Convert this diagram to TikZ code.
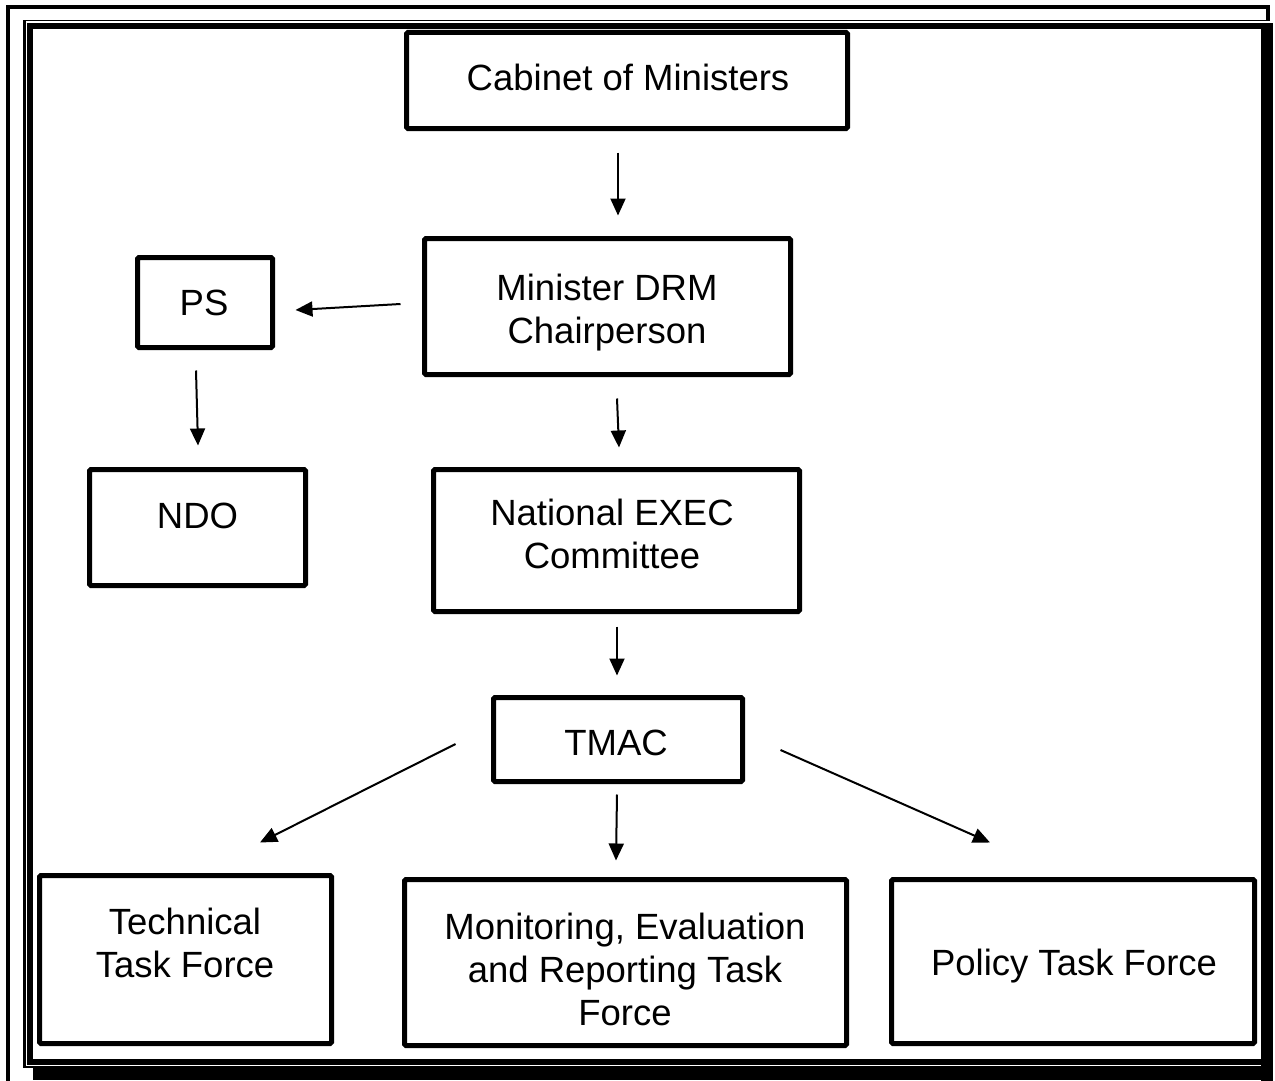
\documentclass[tikz,border=0pt]{standalone}
\usepackage{fontspec}
\setmainfont{Liberation Sans}
\usetikzlibrary{arrows.meta}
\begin{document}
\begin{tikzpicture}[x=1pt,y=-1pt,
  orgbox/.style={draw=black, line width=5pt, rounded corners=1.5pt, fill=white,
    inner sep=0pt, minimum width=#1},
  lbl/.style={font=\fontsize{36.5}{43}\selectfont, align=center, anchor=base, inner sep=0pt},
  arr/.style={line width=2pt, -{Triangle[length=17pt,width=15pt]}}]
\useasboundingbox (0,0) rectangle (1275,1081);
% page frame: outer thin rule, thin inner rule, thick rule with shadow
\fill[black] (6,5) rectangle (10,1081);
\fill[black] (6,5) rectangle (1270,9);
\fill[black] (1266,5) rectangle (1270,21);
\fill[black] (23,20) rectangle (25.5,1067.5);
\fill[black] (23,20) rectangle (1266,21.5);
\fill[black] (23,1066) rectangle (1266,1067.5);
\fill[black] (27,23) rectangle (33,1065);
\fill[black] (27,23) rectangle (1273,29);
\fill[black] (1261,23) rectangle (1273,1081);
\fill[black] (27,1059) rectangle (1261,1065);
\fill[black] (33,1068) rectangle (1273,1080);
% boxes
\node[orgbox=441pt, minimum height=96pt]  (cab)  at (627,80.5)   {};
\node[orgbox=366pt, minimum height=136pt] (min)  at (607.5,306.5) {};
\node[orgbox=135pt, minimum height=90pt]  (ps)   at (205,302.5)  {};
\node[orgbox=216pt, minimum height=116pt] (ndo)  at (197.5,527.5) {};
\node[orgbox=366pt, minimum height=142pt] (nat)  at (616.5,540.5) {};
\node[orgbox=249pt, minimum height=84pt]  (tmac) at (618,739.5)  {};
\node[orgbox=292pt, minimum height=168pt] (tech) at (185.5,959.5) {};
\node[orgbox=442pt, minimum height=166pt] (mon)  at (625.5,962.5) {};
\node[orgbox=363pt, minimum height=164pt] (pol)  at (1073,961.5) {};
% labels (base anchor sits on the last line's baseline)
\node[lbl] (cabt)  at (628,90.5)  {Cabinet of Ministers};
\node[lbl] (mint)  at (607,343)   {Minister DRM\\Chairperson};
\node[lbl] (pst)   at (204,315)   {PS};
\node[lbl] (ndot)  at (197.5,528) {NDO};
\node[lbl] (natt)  at (612,568)   {National EXEC\\Committee};
\node[lbl] (tmact) at (616,755)   {TMAC};
\node[lbl] (techt) at (185,977)   {Technical\\Task Force};
\node[lbl] (mont)  at (625,1025)  {Monitoring, Evaluation\\and Reporting Task\\Force};
\node[lbl] (polt)  at (1074,975)  {Policy Task Force};
% connectors
\draw[arr] ([xshift=-9pt,yshift=-21.5pt]cab.south) -- ([xshift=10.5pt,yshift=20.5pt]min.north);
\draw[arr] ([xshift=-21.5pt,yshift=2.5pt]min.west) -- ([xshift=20.5pt,yshift=-7.5pt]ps.east);
\draw[arr] ([xshift=-9pt,yshift=-20.5pt]ps.south) -- ([xshift=0.5pt,yshift=21.5pt]ndo.north);
\draw[arr] ([xshift=9.5pt,yshift=-21.5pt]min.south) -- ([xshift=2.5pt,yshift=19.5pt]nat.north);
\draw[arr] ([xshift=0.5pt,yshift=-12.5pt]nat.south) -- ([xshift=-1pt,yshift=19.5pt]tmac.north);
\draw[arr] ([xshift=-35.5pt,yshift=-4.5pt]tmac.west) -- ([xshift=74.5pt,yshift=30.5pt]tech.north);
\draw[arr] ([xshift=-1pt,yshift=-10.5pt]tmac.south) -- ([xshift=-9.5pt,yshift=16.5pt]mon.north);
\draw[arr] ([xshift=35.5pt,yshift=-10.5pt]tmac.east) -- ([xshift=-83pt,yshift=34.5pt]pol.north);
\end{tikzpicture}
\end{document}
